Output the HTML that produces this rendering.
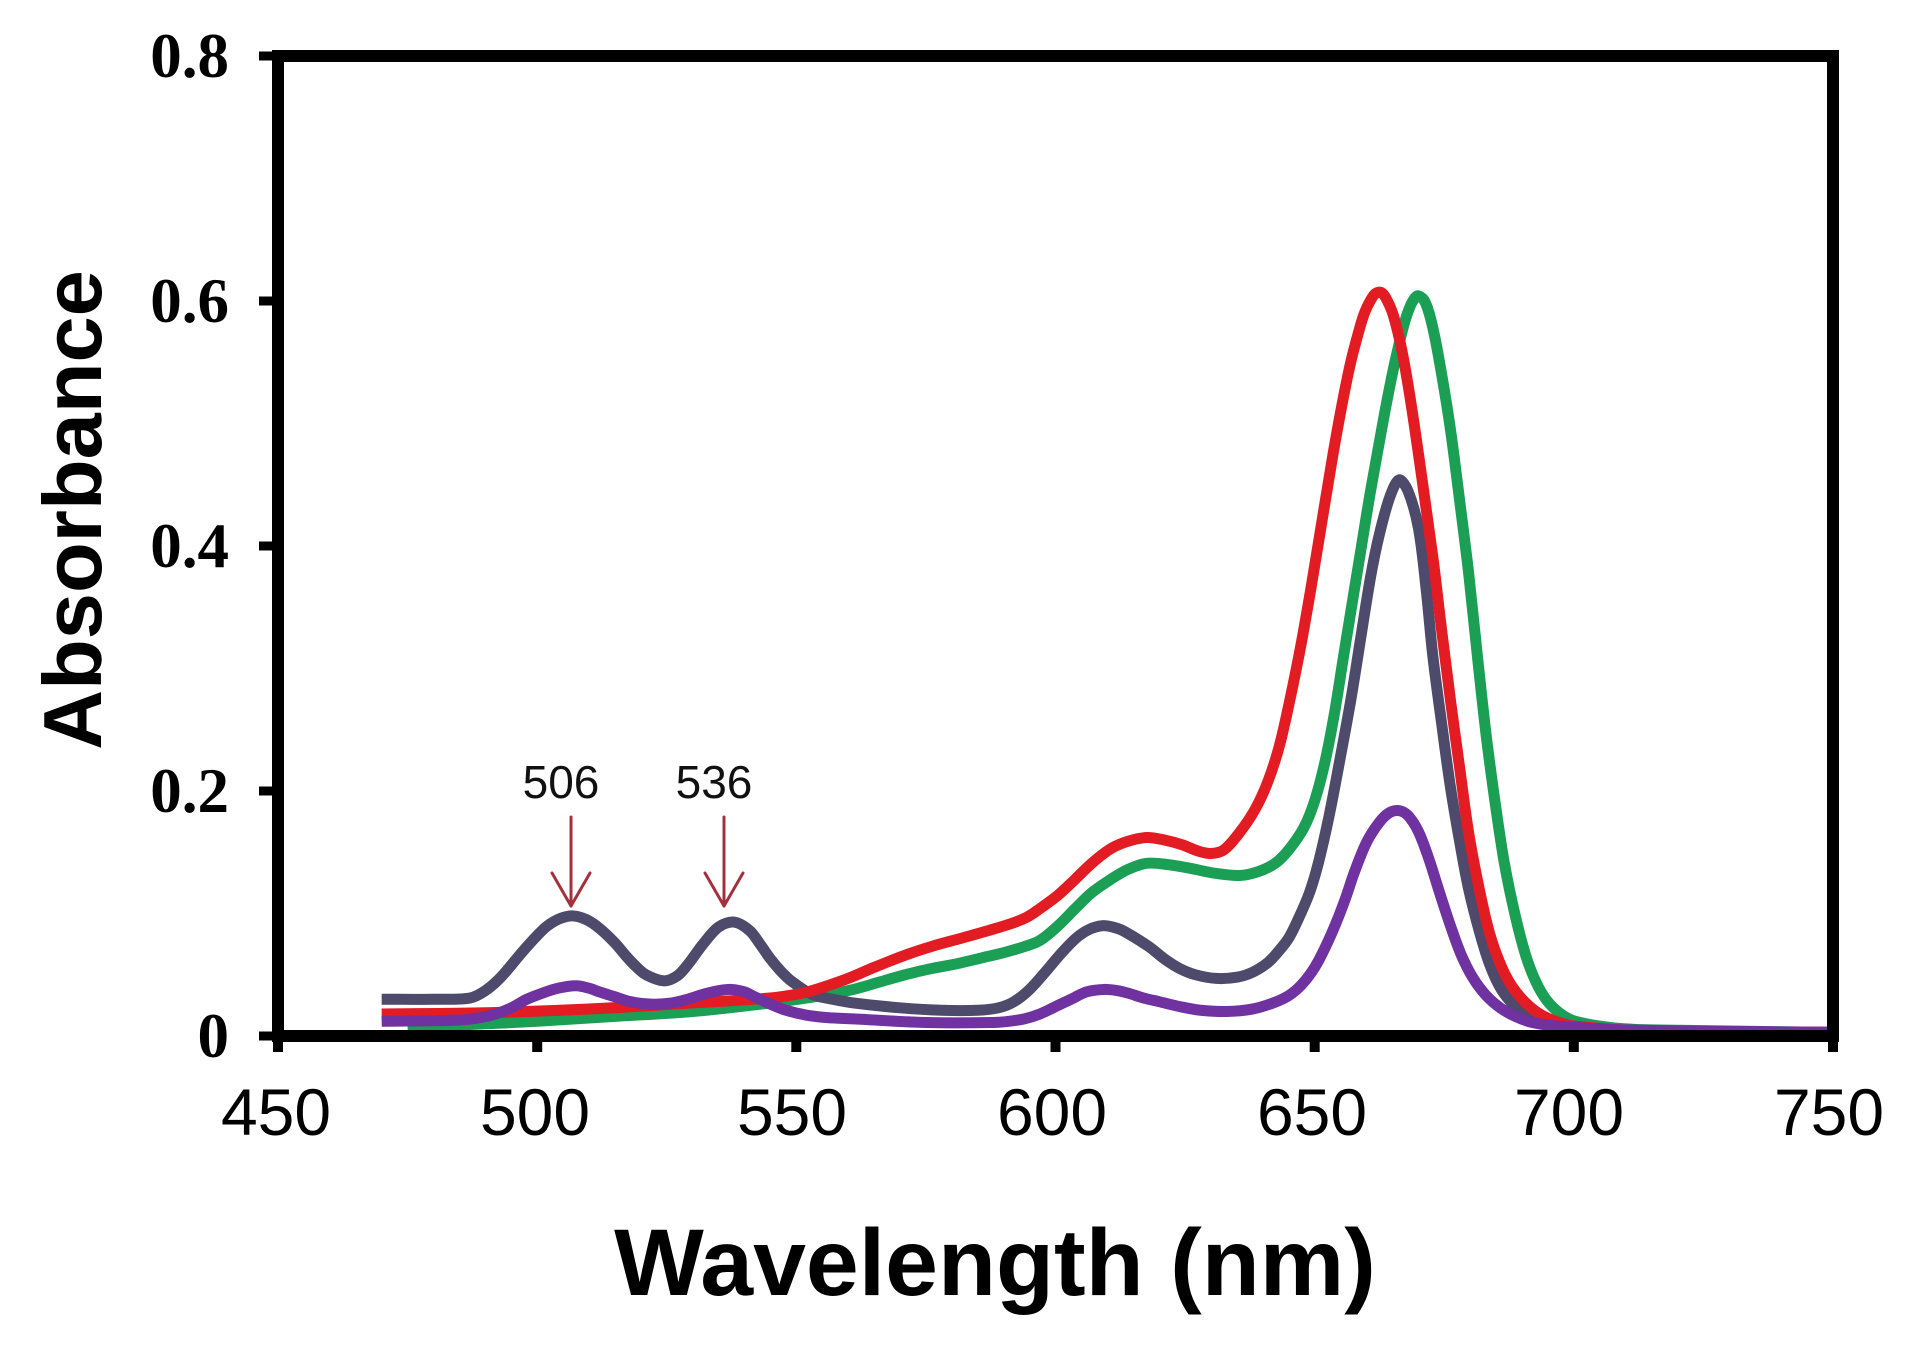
<!DOCTYPE html>
<html>
<head>
<meta charset="utf-8">
<style>
  html, body { margin: 0; padding: 0; background: #ffffff; }
  body { width: 1920px; height: 1356px; overflow: hidden; }
  svg { display: block; }
  .ytl { font-family: "Liberation Serif", serif; font-weight: bold; font-size: 63px; fill: #000; }
  .xtl { font-family: "Liberation Sans", sans-serif; font-size: 66px; fill: #000; }
  .ttl { font-family: "Liberation Sans", sans-serif; font-weight: bold; fill: #000; }
  .ann { font-family: "Liberation Sans", sans-serif; font-size: 46px; fill: #111; }
  .crv { fill: none; stroke-width: 11; stroke-linejoin: round; stroke-linecap: butt; vector-effect: non-scaling-stroke; }
  .sm { fill: none; stroke-width: 11; stroke-linejoin: round; stroke-linecap: butt; }
</style>
</head>
<body>
<svg id="chart" width="1920" height="1356" viewBox="0 0 1920 1356" xmlns="http://www.w3.org/2000/svg">
  <rect x="0" y="0" width="1920" height="1356" fill="#ffffff"/>

  <g id="smooth"></g>
  <!-- curves in data coords: x = nm, y = absorbance -->
  <g id="raw" transform="matrix(5.18333 0 0 -1225 -2054.5 1036)">
    <polyline class="crv" stroke="#1a9f55" points="475,0.007 490,0.010 500,0.012 515,0.016 530,0.020 545,0.027 555,0.033 561,0.038 566,0.044 571,0.050 576,0.055 581,0.059 586,0.064 590,0.068 594,0.073 597,0.078 600.5,0.090 603.8,0.104 607,0.117 610.7,0.128 614,0.136 617.6,0.141 621.5,0.140 625.9,0.137 630.5,0.133 635.5,0.131 639,0.134 642.4,0.141 645,0.152 647.9,0.170 650,0.192 652,0.224 653.8,0.263 655.5,0.308 657.3,0.355 659,0.399 660.7,0.443 662.4,0.483 664.2,0.524 665.9,0.558 667.9,0.590 669.7,0.604 671.2,0.600 672.8,0.578 674.5,0.540 676.2,0.495 678,0.436 679.7,0.378 681.4,0.310 683.1,0.245 684.9,0.188 686.6,0.141 688.6,0.100 690.7,0.066 692.7,0.044 694.8,0.029 697.5,0.018 700.3,0.012 707,0.007 715,0.005 750,0.003"/>
    <polyline class="crv" stroke="#4d4a6b" points="470,0.030 480,0.030 487,0.031 490,0.037 493,0.048 497,0.068 500,0.082 502,0.090 504.5,0.096 507,0.098 509.5,0.095 512,0.088 515,0.076 517,0.066 519,0.057 521,0.050 524.5,0.045 527,0.049 529,0.058 532,0.075 535,0.089 538,0.093 541,0.086 543,0.075 545,0.063 547,0.053 549,0.045 553,0.034 557,0.030 561,0.027 570,0.023 578,0.021 585,0.021 589,0.023 592,0.028 595,0.038 598,0.052 601,0.067 604,0.080 606.5,0.087 609,0.090 611,0.089 613,0.086 618,0.073 621,0.063 624,0.055 627,0.050 631,0.047 635,0.048 638,0.052 641,0.060 643,0.069 645,0.080 647,0.097 649,0.117 650.7,0.141 652.8,0.180 654.8,0.224 657,0.275 659,0.328 660.8,0.375 662.4,0.408 664.5,0.440 666.3,0.454 668,0.445 670,0.415 671.5,0.365 672.8,0.310 674.5,0.255 676.2,0.203 678,0.158 679.7,0.120 681.8,0.085 683.8,0.058 686,0.038 688.7,0.024 691.5,0.015 694.8,0.010 700,0.006 720,0.004 750,0.003"/>
    <polyline class="crv" stroke="#e31b23" points="470,0.018 490,0.019 510,0.022 530,0.027 545,0.031 550,0.034 553,0.037 556,0.041 560,0.047 565,0.056 571,0.066 576,0.073 582,0.080 587,0.086 591.6,0.092 594.5,0.097 597,0.104 600.5,0.115 603.8,0.128 607,0.141 610.7,0.153 614,0.159 617.6,0.162 621,0.160 624.5,0.156 627.5,0.151 630,0.149 632.5,0.152 635.5,0.166 638.5,0.185 641,0.208 643.2,0.237 645.2,0.274 647.3,0.318 649.3,0.366 651.4,0.420 653.5,0.474 655.3,0.516 656.9,0.549 658.3,0.572 659.5,0.589 660.7,0.600 661.7,0.606 662.8,0.607 663.8,0.602 665.2,0.588 666.9,0.558 668.6,0.516 670.7,0.455 672.8,0.391 674.5,0.331 676.2,0.274 678,0.218 679.7,0.166 681.8,0.119 683.8,0.083 686,0.057 688,0.041 690.5,0.028 693.4,0.018 696.5,0.012 700.3,0.008 715,0.004 750,0.003"/>
    <polyline class="crv" stroke="#6f32a0" points="470,0.012 485,0.013 489,0.015 492,0.018 495,0.023 498,0.030 501,0.035 504,0.039 507.5,0.041 510,0.039 512,0.036 515,0.032 518,0.028 522,0.026 526,0.027 529,0.030 532,0.034 535,0.037 537.5,0.038 540,0.036 542,0.032 545,0.026 548,0.021 552,0.017 556,0.015 561,0.014 575,0.011 588,0.011 591,0.012 594,0.014 597,0.018 600,0.024 603,0.030 606,0.036 609.3,0.038 612,0.037 614,0.035 617,0.031 620,0.028 624,0.024 628,0.021 633,0.020 638,0.022 642,0.027 645,0.033 647.5,0.042 650,0.056 652,0.072 654,0.091 656,0.113 657.6,0.133 660,0.158 662.4,0.174 664.3,0.182 666.2,0.184 668,0.180 670,0.167 672,0.145 674.1,0.117 676.2,0.090 678.3,0.066 680.6,0.047 683.1,0.033 685.8,0.023 688.7,0.016 692,0.011 697,0.008 710,0.005 750,0.003"/>
  </g>

  <!-- frame -->
  <rect x="278" y="56" width="1555" height="980" fill="none" stroke="#000" stroke-width="12"/>

  <!-- y ticks -->
  <g stroke="#000" stroke-width="9">
    <line x1="259" y1="56" x2="280" y2="56"/>
    <line x1="259" y1="301" x2="280" y2="301"/>
    <line x1="259" y1="546" x2="280" y2="546"/>
    <line x1="259" y1="791" x2="280" y2="791"/>
    <line x1="259" y1="1036" x2="280" y2="1036"/>
  </g>
  <!-- x ticks -->
  <g stroke="#000" stroke-width="10">
    <line x1="278" y1="1036" x2="278" y2="1052"/>
    <line x1="537.2" y1="1036" x2="537.2" y2="1052"/>
    <line x1="796.3" y1="1036" x2="796.3" y2="1052"/>
    <line x1="1055.5" y1="1036" x2="1055.5" y2="1052"/>
    <line x1="1314.7" y1="1036" x2="1314.7" y2="1052"/>
    <line x1="1573.8" y1="1036" x2="1573.8" y2="1052"/>
    <line x1="1833" y1="1036" x2="1833" y2="1052"/>
  </g>

  <!-- y tick labels -->
  <text class="ytl" x="229" y="77" text-anchor="end">0.8</text>
  <text class="ytl" x="229" y="322" text-anchor="end">0.6</text>
  <text class="ytl" x="229" y="567" text-anchor="end">0.4</text>
  <text class="ytl" x="229" y="812" text-anchor="end">0.2</text>
  <text class="ytl" x="229" y="1057" text-anchor="end">0</text>

  <!-- x tick labels -->
  <text class="xtl" x="276" y="1135" text-anchor="middle">450</text>
  <text class="xtl" x="535" y="1135" text-anchor="middle">500</text>
  <text class="xtl" x="792" y="1135" text-anchor="middle">550</text>
  <text class="xtl" x="1052" y="1135" text-anchor="middle">600</text>
  <text class="xtl" x="1312" y="1135" text-anchor="middle">650</text>
  <text class="xtl" x="1569" y="1135" text-anchor="middle">700</text>
  <text class="xtl" x="1829" y="1135" text-anchor="middle">750</text>

  <!-- axis titles -->
  <text class="ttl" x="995" y="1295" text-anchor="middle" font-size="95">Wavelength (nm)</text>
  <text class="ttl" transform="translate(101,510) rotate(-90)" text-anchor="middle" font-size="83">Absorbance</text>

  <!-- annotations -->
  <text class="ann" x="561" y="798" text-anchor="middle">506</text>
  <text class="ann" x="714" y="798" text-anchor="middle">536</text>
  <g stroke="#a3303c" stroke-width="3" fill="none" stroke-linecap="round" stroke-linejoin="round">
    <line x1="571" y1="817" x2="571" y2="906"/>
    <polyline points="552,873 571,906 590,873"/>
    <line x1="724" y1="817" x2="724" y2="906"/>
    <polyline points="705,873 724,906 743,873"/>
  </g>
</svg>
<script>
(function(){
  try {
    var NS = "http://www.w3.org/2000/svg";
    var raw = document.getElementById('raw');
    var sm = document.getElementById('smooth');
    var pls = raw.querySelectorAll('polyline');
    for (var k = 0; k < pls.length; k++) {
      var pl = pls[k];
      var pts = pl.getAttribute('points').trim().split(/\s+/).map(function(s){
        var a = s.split(',').map(Number);
        return [5.18333 * a[0] - 2054.5, 1036 - 1225 * a[1]];
      });
      var n = pts.length;
      var tang = [];
      for (var i = 0; i < n; i++) {
        var p0 = pts[Math.max(i - 1, 0)], p2 = pts[Math.min(i + 1, n - 1)], p1 = pts[i];
        var d0 = Math.hypot(p1[0] - p0[0], p1[1] - p0[1]);
        var d1 = Math.hypot(p2[0] - p1[0], p2[1] - p1[1]);
        var den = d0 + d1 || 1;
        tang.push([(p2[0] - p0[0]) / den, (p2[1] - p0[1]) / den]);
      }
      var d = 'M' + pts[0][0].toFixed(2) + ',' + pts[0][1].toFixed(2);
      for (var j = 0; j < n - 1; j++) {
        var a = pts[j], b = pts[j + 1];
        var L = Math.hypot(b[0] - a[0], b[1] - a[1]) / 3;
        var c1 = [a[0] + tang[j][0] * L, a[1] + tang[j][1] * L];
        var c2 = [b[0] - tang[j + 1][0] * L, b[1] - tang[j + 1][1] * L];
        d += 'C' + c1[0].toFixed(2) + ',' + c1[1].toFixed(2) + ' ' + c2[0].toFixed(2) + ',' + c2[1].toFixed(2) + ' ' + b[0].toFixed(2) + ',' + b[1].toFixed(2);
      }
      var path = document.createElementNS(NS, 'path');
      path.setAttribute('d', d);
      path.setAttribute('class', 'sm');
      path.setAttribute('stroke', pl.getAttribute('stroke'));
      sm.appendChild(path);
    }
    raw.parentNode.removeChild(raw);
  } catch (e) {}
})();
</script>
</body>
</html>
